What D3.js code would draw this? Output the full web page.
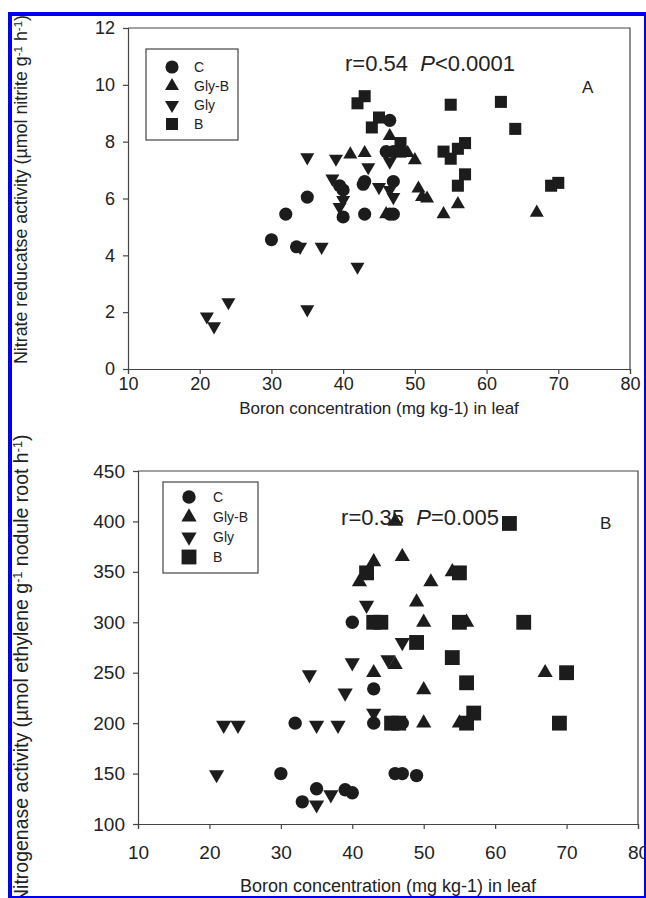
<!DOCTYPE html>
<html>
<head>
<meta charset="utf-8">
<script src="https://cdn.jsdelivr.net/npm/d3@7"></script>
<style>
  body { margin: 0; background: #fff; }
  svg { display: block; font-family: "Liberation Sans", Arial, sans-serif; }
</style>
</head>
<body>
<div id="root"></div>
<script>
// DIMENSIONS
let width = 646,
  height = 898;

// tick labels
const xTicks = [10, 20, 30, 40, 50, 60, 70, 80];
const yTicksA = [0, 2, 4, 6, 8, 10, 12];
const yTicksB = [100, 150, 200, 250, 300, 350, 400, 450];

const groups = ['C', 'Gly-B', 'Gly', 'B'];

// Panel A: boron in leaf vs nitrate reductase activity
const nraC = [[30, 4.55], [32, 5.45], [33.5, 4.3], [35, 6.05], [39.5, 6.45], [40, 6.3], [40, 5.35], [43, 6.6],
  [43, 5.45], [42.8, 6.5], [46.5, 8.75], [46, 7.65], [47, 7.65], [47, 6.6], [46.5, 5.45], [47, 5.45]];
const nraGlyB = [[41, 7.55], [43, 7.6], [46.5, 8.2], [49, 7.6], [50, 7.35], [50.5, 6.35], [51, 6.05], [51.7, 6.0],
  [54, 5.45], [56, 5.8], [67, 5.5], [46, 5.45]];
const nraGly = [[21, 1.85], [22, 1.5], [24, 2.35], [35, 2.1], [34, 4.3], [37, 4.3], [42, 3.6], [35, 7.45], [39, 7.4],
  [38.5, 6.7], [39.5, 5.7], [40, 5.95], [43.5, 7.1], [45, 6.4], [46.5, 6.3], [47, 6.05], [46.5, 7.3]];
const nraB = [[42, 9.35], [43, 9.6], [44, 8.5], [45, 8.85], [48, 7.95], [48, 7.65], [54, 7.65], [55, 7.4], [55, 9.3],
  [56, 7.75], [56, 6.45], [57, 7.95], [57, 6.85], [62, 9.4], [64, 8.45], [69, 6.45], [70, 6.55]];

// Panel B: boron in leaf vs nitrogenase activity
const nitC = [[30, 150], [33, 122], [35, 135], [39, 134], [40, 131], [32, 200], [40, 300], [43, 234], [43, 200],
  [47, 200], [46, 150], [47, 150], [49, 148]];
const nitGlyB = [[41, 340], [43, 360], [46, 400], [47, 365], [43, 250], [46, 258], [49, 320], [50, 300], [50, 233],
  [50, 200], [51, 340], [54, 350], [56, 300], [55, 200], [67, 250]];
const nitGly = [[21, 149], [22, 198], [24, 198], [34, 248], [35, 198], [35, 119], [37, 129], [38, 198], [39, 230],
  [40, 260], [42, 317], [43, 210], [45, 263], [47, 280]];
const nitB = [[42, 349], [43, 300], [44, 300], [49, 280], [45.5, 200], [46.5, 200], [54, 265], [55, 349], [55, 300],
  [56, 200], [56, 240], [57, 210], [62, 398], [64, 300], [69, 200], [70, 250]];

let svg = d3.select('#root')
  .append('svg')
  .attr('width', width)
  .attr('height', height);

const ink = '#1c1c1c';

// marker shapes per group
function markerPath(group, big) {
  if (group === 'C') return d3.symbol().type(d3.symbolCircle).size(big ? 140 : 135)();
  if (group === 'B') return d3.symbol().type(d3.symbolSquare).size(big ? 220 : 145)();
  return d3.symbol().type(d3.symbolTriangle).size(big ? 100 : 85)();
}
function markerRot(group) {
  return group === 'Gly' ? ' rotate(180)' : '';
}

function drawPanel(opt) {
  let g = svg.append('g');

  let x = d3.scaleLinear().domain([10, 80]).range([opt.left, opt.right]);
  let y = d3.scaleLinear().domain(opt.yDomain).range([opt.bottom, opt.top]);

  // frame (top and right)
  g.append('path')
    .attr('d', `M${opt.left},${opt.top}H${opt.right}V${opt.bottom}`)
    .attr('fill', 'none')
    .attr('stroke', '#444')
    .attr('stroke-width', 1.2);

  let xAxis = g.append('g')
    .attr('transform', `translate(0,${opt.bottom})`)
    .call(d3.axisBottom(x).tickValues(xTicks).tickSizeOuter(0).tickSize(5).tickPadding(opt.xPad));
  let yAxis = g.append('g')
    .attr('transform', `translate(${opt.left},0)`)
    .call(d3.axisLeft(y).tickValues(opt.yTicks).tickSizeOuter(0).tickSize(5).tickPadding(8));

  [xAxis, yAxis].forEach(a => {
    a.select('.domain').attr('stroke', '#444').attr('stroke-width', 1.2);
    a.selectAll('.tick line').attr('stroke', '#444').attr('stroke-width', 1.2);
    a.selectAll('.tick text')
      .attr('fill', '#222')
      .style('font-size', opt.tickFont + 'px')
      .style('font-family', '"Liberation Sans", Arial, sans-serif');
  });

  // points
  opt.series.forEach(s => {
    g.append('g').selectAll('path')
      .data(s.values)
      .enter()
      .append('path')
      .attr('d', markerPath(s.group, opt.big))
      .attr('transform', d => `translate(${x(d[0])},${y(d[1])})` + markerRot(s.group))
      .attr('fill', ink);
  });

  // legend
  let lg = g.append('g').attr('transform', `translate(${opt.legend.x},${opt.legend.y})`);
  lg.append('rect')
    .attr('width', opt.legend.w)
    .attr('height', opt.legend.h)
    .attr('fill', 'white')
    .attr('stroke', '#444')
    .attr('stroke-width', 1.2);
  let items = lg.selectAll('.legend-item')
    .data(groups)
    .enter()
    .append('g')
    .attr('transform', (d, i) => `translate(${opt.legend.mx},${opt.legend.my + i * opt.legend.step})`);
  items.append('path')
    .attr('d', d => markerPath(d, opt.big))
    .attr('transform', d => markerRot(d).trim())
    .attr('fill', ink);
  items.append('text')
    .attr('x', opt.legend.tx)
    .attr('dy', '0.35em')
    .style('font-size', '14px')
    .attr('fill', '#222')
    .text(d => d);

  // r and P annotation
  let ann = g.append('text')
    .attr('x', opt.ann.x)
    .attr('y', opt.ann.y)
    .attr('text-anchor', 'middle')
    .style('font-size', opt.ann.size + 'px')
    .attr('fill', '#222');
  ann.append('tspan').text(opt.ann.r + '\u00a0\u00a0');
  ann.append('tspan').style('font-style', 'italic').text('P');
  ann.append('tspan').text(opt.ann.p);

  g.append('text')
    .attr('x', opt.tag.x)
    .attr('y', opt.tag.y)
    .style('font-size', '17px')
    .attr('fill', '#222')
    .text(opt.tag.text);

  // x axis title
  g.append('text')
    .attr('x', (opt.left + opt.right) / 2)
    .attr('y', opt.bottom + opt.xTitle.dy)
    .attr('text-anchor', 'middle')
    .style('font-size', opt.xTitle.size + 'px')
    .attr('fill', '#222')
    .text('Boron concentration (mg kg-1) in leaf');

  // y axis title, rotated
  let yt = g.append('text')
    .attr('transform', `translate(${opt.yTitle.x},${opt.yTitle.y}) rotate(-90)`)
    .style('font-size', opt.yTitle.size + 'px')
    .attr('fill', '#222');
  opt.yTitle.parts.forEach(p => {
    let t = yt.append('tspan').text(p[0]);
    if (p[1] === 'sup') t.attr('dy', '-0.45em').style('font-size', '0.65em');
    if (p[1] === 'down') t.attr('dy', '0.3em');
  });
}

drawPanel({
  left: 128, right: 630, top: 28, bottom: 369,
  yDomain: [0, 12], yTicks: yTicksA, big: false, tickFont: 18, xPad: 3,
  series: [
    { group: 'C', values: nraC },
    { group: 'Gly-B', values: nraGlyB },
    { group: 'Gly', values: nraGly },
    { group: 'B', values: nraB }
  ],
  legend: { x: 146, y: 49, w: 92, h: 91, mx: 26, my: 18, step: 19, tx: 22 },
  ann: { x: 430, y: 71, r: 'r=0.54', p: '<0.0001', size: 22 },
  tag: { x: 582, y: 93, text: 'A' },
  xTitle: { dy: 45, size: 17 },
  yTitle: {
    x: 27, y: 364, size: 17.8,
    parts: [['Nitrate reducatse activity (\u00b5mol nitrite g'], ['-1', 'sup'], [' h', 'down'], ['-1', 'sup'], [')', 'down']]
  }
});

drawPanel({
  left: 138, right: 638, top: 471, bottom: 824,
  yDomain: [100, 450], yTicks: yTicksB, big: true, tickFont: 19, xPad: 17,
  series: [
    { group: 'C', values: nitC },
    { group: 'Gly-B', values: nitGlyB },
    { group: 'Gly', values: nitGly },
    { group: 'B', values: nitB }
  ],
  legend: { x: 163, y: 482, w: 95, h: 91, mx: 26, my: 15, step: 20, tx: 24 },
  ann: { x: 420, y: 525, r: 'r=0.35', p: '=0.005', size: 22 },
  tag: { x: 600, y: 529, text: 'B' },
  xTitle: { dy: 68, size: 18 },
  yTitle: {
    x: 28, y: 903, size: 19.5,
    parts: [['Nitrogenase activity (\u00b5mol ethylene g'], ['-1', 'sup'], [' nodule root h', 'down'], ['-1', 'sup'], [')', 'down']]
  }
});

// blue frame of the figure, clipping anything outside it
const bw = 4;
svg.append('path')
  .attr('d', `M0,0H${width}V${height}H0Z M8,12V${height}H${width}V12Z`)
  .attr('fill', 'white')
  .attr('fill-rule', 'evenodd');
svg.append('rect')
  .attr('x', 8 + bw / 2)
  .attr('y', 12 + bw / 2)
  .attr('width', width - 8 - bw / 2)
  .attr('height', height - 12 - bw / 2)
  .attr('fill', 'none')
  .attr('stroke', '#0000f5')
  .attr('stroke-width', bw);
</script>
</body>
</html>
